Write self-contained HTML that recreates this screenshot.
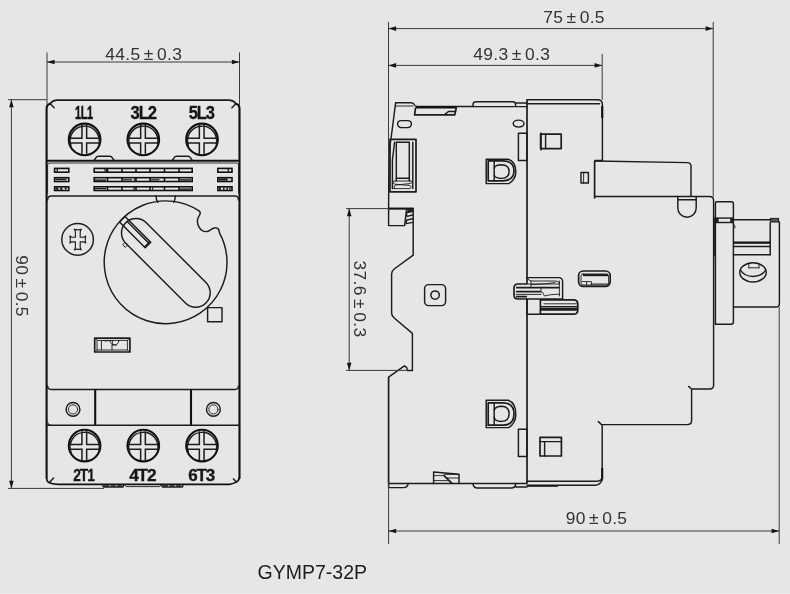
<!DOCTYPE html>
<html lang="en"><head><meta charset="utf-8"><title>GYMP7-32P dimensions</title>
<style>
html,body{margin:0;padding:0;background:#e4e6e7;}
body{width:790px;height:594px;overflow:hidden;}
svg{display:block;will-change:transform}
.k{fill:none;stroke:#1c1c1c;stroke-width:1.45;stroke-linecap:round;stroke-linejoin:round}
.n{fill:none;stroke:#1c1c1c;stroke-width:0.9;stroke-linecap:round;stroke-linejoin:round}
.s{fill:none;stroke:#1c1c1c;stroke-width:1.7;stroke-linejoin:round}
.c{fill:none;stroke:#1c1c1c;stroke-width:1.5;stroke-linejoin:miter}
.sc{fill:none;stroke:#111;stroke-width:2.1}
.t{fill:none;stroke:#111;stroke-width:2.1;stroke-linejoin:round}
.t2{fill:none;stroke:#111;stroke-width:1.6;stroke-linejoin:round}
.v{fill:#e4e6e7;stroke:#111;stroke-width:1.6}
.v2{stroke:#111;stroke-width:1.6}
.acc rect,.acc path{fill:#1c1c1c}
.f{fill:#1c1c1c}
.d{stroke:#3a3a3a;stroke-width:1;fill:none}
.ar{fill:#161616}
text{font-family:"Liberation Sans",sans-serif;fill:#2b2b2b}
.dm{font-size:17.4px;fill:#333;letter-spacing:0.35px;word-spacing:-1.9px}
.lb,.lb2{font-size:17.7px;font-weight:bold;fill:#161616;stroke:#161616;stroke-width:0.3;letter-spacing:-1.2px}
.lb2{font-size:16.7px}
.ttl{font-size:19.5px;fill:#1d1d1d}
</style></head>
<body>
<svg width="790" height="594" viewBox="0 0 790 594">
<g id="front">
<path d="M46.6,478.4 L46.6,108.7 Q46.6,104.8 50.2,103.8" class="t"/>
<path d="M239.5,478.4 L239.5,108.7 Q239.5,104.8 235.9,103.8" class="t"/>
<path d="M50.2,103.8 Q52.0,100.8 56.6,100.2 L229.5,100.2 Q234.1,100.8 235.9,103.8" class="s"/>
<line x1="50.4" y1="104.0" x2="54.2" y2="107.8" class="k"/>
<line x1="235.7" y1="104.0" x2="231.9" y2="107.8" class="k"/>
<path d="M46.6,477.4 Q46.6,481.9 50.0,483.0 Q53.6,484.4 58.6,484.4 L229.5,484.4 Q232.5,484.0 235.5,482.4 Q239.1,481.0 239.5,477.4" class="t2"/>
<line x1="49.800000000000004" y1="482.0" x2="53.6" y2="477.9" class="k"/>
<line x1="236.3" y1="482.0" x2="233.5" y2="478.9" class="k"/>
<path d="M102.4,484.4 L103.4,487.0 L123,487.0 L124,484.4" class="k"/>
<path d="M124,484.4 L126,486.59999999999997 L159.6,486.59999999999997 L161.4,484.4" class="n"/>
<path d="M161.4,484.4 L162.4,487.0 L182.4,487.0 L183.4,484.4" class="k"/>
<path d="M104,486.0 L122.6,486.0 M163,486.0 L182,486.0" stroke="#1c1c1c" stroke-width="1.6" stroke-dasharray="5 1.6" fill="none"/>
<line x1="46.6" y1="160.7" x2="239.5" y2="160.7" class="t"/>
<path d="M94.4,160 L96.0,157.6 Q96.60000000000001,156.3 98.4,156.3 L109.80000000000001,156.3 Q111.60000000000001,156.3 112.2,157.6 L113.80000000000001,160" class="k"/>
<path d="M172.6,160 L174.2,157.6 Q174.79999999999998,156.3 176.6,156.3 L188.0,156.3 Q189.79999999999998,156.3 190.4,157.6 L192.0,160" class="k"/>
<path d="M47.6,193 L47.6,165 Q47.6,163 50.0,163 L236.1,163 Q238.5,163 238.5,165 L238.5,193" class="n"/>
<rect x="54.6" y="168.4" width="14.2" height="3.799999999999983" rx="0" class="v"/>
<rect x="217.8" y="168.4" width="14.2" height="3.799999999999983" rx="0" class="v"/>
<rect x="94.2" y="168.4" width="98" height="3.799999999999983" rx="0" class="v"/>
<line x1="107.5" y1="168.5" x2="107.5" y2="172.1" class="v2"/>
<line x1="122" y1="168.5" x2="122" y2="172.1" class="v2"/>
<line x1="136" y1="168.5" x2="136" y2="172.1" class="v2"/>
<line x1="150" y1="168.5" x2="150" y2="172.1" class="v2"/>
<line x1="164.5" y1="168.5" x2="164.5" y2="172.1" class="v2"/>
<line x1="179" y1="168.5" x2="179" y2="172.1" class="v2"/>
<rect x="54.6" y="177.7" width="14.2" height="3.8000000000000114" rx="0" class="v"/>
<rect x="217.8" y="177.7" width="14.2" height="3.8000000000000114" rx="0" class="v"/>
<rect x="94.2" y="177.7" width="98" height="3.8000000000000114" rx="0" class="v"/>
<line x1="107.5" y1="177.79999999999998" x2="107.5" y2="181.4" class="v2"/>
<line x1="122" y1="177.79999999999998" x2="122" y2="181.4" class="v2"/>
<line x1="136" y1="177.79999999999998" x2="136" y2="181.4" class="v2"/>
<line x1="150" y1="177.79999999999998" x2="150" y2="181.4" class="v2"/>
<line x1="164.5" y1="177.79999999999998" x2="164.5" y2="181.4" class="v2"/>
<line x1="179" y1="177.79999999999998" x2="179" y2="181.4" class="v2"/>
<rect x="54.6" y="186.8" width="14.2" height="3.6999999999999886" rx="0" class="v"/>
<rect x="217.8" y="186.8" width="14.2" height="3.6999999999999886" rx="0" class="v"/>
<rect x="94.2" y="186.8" width="98" height="3.6999999999999886" rx="0" class="v"/>
<line x1="107.5" y1="186.9" x2="107.5" y2="190.4" class="v2"/>
<line x1="122" y1="186.9" x2="122" y2="190.4" class="v2"/>
<line x1="136" y1="186.9" x2="136" y2="190.4" class="v2"/>
<line x1="150" y1="186.9" x2="150" y2="190.4" class="v2"/>
<line x1="164.5" y1="186.9" x2="164.5" y2="190.4" class="v2"/>
<line x1="179" y1="186.9" x2="179" y2="190.4" class="v2"/>
<g class="acc">
<rect x="55.5" y="178.6" width="11" height="1.6"/><rect x="55.5" y="187.4" width="3" height="2.4"/><rect x="60" y="187.4" width="2.4" height="2.4"/><path d="M64,187.4 L68,187.4 L65.5,189.8Z"/>
<rect x="56.6" y="169" width="1.4" height="2.6"/>
<rect x="218.6" y="178.4" width="9" height="2.2"/><rect x="219" y="187.4" width="2" height="2.4"/><rect x="223" y="187.4" width="1.6" height="2.4"/><rect x="226.4" y="187.4" width="1.6" height="2.4"/><rect x="229.2" y="187.4" width="1.4" height="2.4"/>
<rect x="227.6" y="169" width="1.4" height="2.6"/>
<rect x="104.4" y="169" width="1.2" height="2.6"/><rect x="106" y="169" width="1" height="2.6"/>
<rect x="95" y="179.4" width="11" height="1.4"/><rect x="123" y="179.2" width="9" height="1.2"/><rect x="134" y="178.6" width="1.6" height="2"/><rect x="150.5" y="179.2" width="9" height="1.2"/><rect x="180" y="179.2" width="11" height="1.4"/>
<rect x="95" y="188" width="11" height="1.2"/><rect x="180" y="188.4" width="11" height="1.4"/><rect x="133.4" y="187.4" width="1.4" height="2.4"/><rect x="152" y="187.4" width="1.2" height="2.4"/>
</g>
<path d="M47.6,200 Q47.6,196 51.2,196 L234.9,196 Q238.5,196 238.5,200" class="k"/>
<path d="M47.6,386 Q47.6,389.4 51.0,389.4 L235.1,389.4 Q238.5,389.4 238.5,386" class="k"/>
<line x1="95.2" y1="389.4" x2="95.2" y2="425" class="t"/>
<line x1="191" y1="389.4" x2="191" y2="425" class="t"/>
<path d="M46.6,425.2 L239.5,425.2" class="k"/>
<path d="M47.4,422 Q47.6,425 50.6,425.2" class="n"/>
<circle cx="73" cy="409.4" r="6.9" class="k"/>
<circle cx="73" cy="409.4" r="4.6" class="n"/>
<circle cx="213.4" cy="409.4" r="6.9" class="k"/>
<circle cx="213.4" cy="409.4" r="4.6" class="n"/>
<circle cx="84.6" cy="139.4" r="15.8" class="sc"/>
<path d="M71.0,145.9 A14.6,14.6 0 1 1 98.89999999999999,143.9" class="k"/>
<path d="M81.95,125.04 L81.95,138.25 L70.05,138.25" class="c"/>
<path d="M81.95,153.76 L81.95,142.95 L70.44,142.95" class="c"/>
<path d="M86.65,124.94 L86.65,138.25 L99.15,138.25" class="c"/>
<path d="M86.65,153.86 L86.65,142.95 L98.76,142.95" class="c"/>
<circle cx="84.6" cy="445.6" r="15.8" class="sc"/>
<path d="M71.0,452.1 A14.6,14.6 0 1 1 98.89999999999999,450.1" class="k"/>
<path d="M81.95,431.24 L81.95,444.45 L70.05,444.45" class="c"/>
<path d="M81.95,459.96 L81.95,449.15 L70.44,449.15" class="c"/>
<path d="M86.65,431.14 L86.65,444.45 L99.15,444.45" class="c"/>
<path d="M86.65,460.06 L86.65,449.15 L98.76,449.15" class="c"/>
<circle cx="143.3" cy="139.4" r="15.8" class="sc"/>
<path d="M129.70000000000002,145.9 A14.6,14.6 0 1 1 157.60000000000002,143.9" class="k"/>
<path d="M140.65,125.04 L140.65,138.25 L128.75,138.25" class="c"/>
<path d="M140.65,153.76 L140.65,142.95 L129.14,142.95" class="c"/>
<path d="M145.35,124.94 L145.35,138.25 L157.85,138.25" class="c"/>
<path d="M145.35,153.86 L145.35,142.95 L157.46,142.95" class="c"/>
<circle cx="143.3" cy="445.6" r="15.8" class="sc"/>
<path d="M129.70000000000002,452.1 A14.6,14.6 0 1 1 157.60000000000002,450.1" class="k"/>
<path d="M140.65,431.24 L140.65,444.45 L128.75,444.45" class="c"/>
<path d="M140.65,459.96 L140.65,449.15 L129.14,449.15" class="c"/>
<path d="M145.35,431.14 L145.35,444.45 L157.85,444.45" class="c"/>
<path d="M145.35,460.06 L145.35,449.15 L157.46,449.15" class="c"/>
<circle cx="202" cy="139.4" r="15.8" class="sc"/>
<path d="M188.4,145.9 A14.6,14.6 0 1 1 216.3,143.9" class="k"/>
<path d="M199.35,125.04 L199.35,138.25 L187.45,138.25" class="c"/>
<path d="M199.35,153.76 L199.35,142.95 L187.84,142.95" class="c"/>
<path d="M204.05,124.94 L204.05,138.25 L216.55,138.25" class="c"/>
<path d="M204.05,153.86 L204.05,142.95 L216.16,142.95" class="c"/>
<circle cx="202" cy="445.6" r="15.8" class="sc"/>
<path d="M188.4,452.1 A14.6,14.6 0 1 1 216.3,450.1" class="k"/>
<path d="M199.35,431.24 L199.35,444.45 L187.45,444.45" class="c"/>
<path d="M199.35,459.96 L199.35,449.15 L187.84,449.15" class="c"/>
<path d="M204.05,431.14 L204.05,444.45 L216.55,444.45" class="c"/>
<path d="M204.05,460.06 L204.05,449.15 L216.16,449.15" class="c"/>
<text class="lb" x="75.0" y="118.5" textLength="17.7" lengthAdjust="spacingAndGlyphs" style="letter-spacing:-0.6px;stroke-width:0.5">1L1</text>
<text class="lb" x="130.6" y="118.5" textLength="25.3" lengthAdjust="spacingAndGlyphs">3L2</text>
<text class="lb" x="188.8" y="118.5" textLength="25.1" lengthAdjust="spacingAndGlyphs">5L3</text>
<text class="lb2" x="73.2" y="480.8" textLength="20.7" lengthAdjust="spacingAndGlyphs">2T1</text>
<text class="lb2" x="129.2" y="480.8" textLength="26.1" lengthAdjust="spacingAndGlyphs">4T2</text>
<text class="lb2" x="188.2" y="480.8" textLength="25.7" lengthAdjust="spacingAndGlyphs">6T3</text>
<circle cx="77.6" cy="239.4" r="15.8" class="k"/>
<path d="M-3.6,-10.2 Q-2.4,-9 -2.4,-7.4 L-2.4,-2.3 L-5.6,-2.3 Q-6.8,-2.3 -7.9,-3.5 Q-7,0 -7.9,3.5 Q-6.8,2.3 -5.6,2.3 L-2.4,2.3 L-2.4,7.4 Q-2.4,9 -3.6,10.2 Q0,9.2 3.6,10.2 Q2.4,9 2.4,7.4 L2.4,2.3 L5.6,2.3 Q6.8,2.3 7.9,3.5 Q7,0 7.9,-3.5 Q6.8,-2.3 5.6,-2.3 L2.4,-2.3 L2.4,-7.4 Q2.4,-9 3.6,-10.2 Q0,-9.2 -3.6,-10.2Z" class="n" style="stroke-width:1.15" transform="translate(77.8,239.5)"/>
<path d="M156,196 Q156.3,200.3 157.8,202.3" class="k"/>
<path d="M175.4,196 Q175.2,200.3 173.6,202.3" class="k"/>
<path d="M219.45,232.80 A61.4,61.4 0 1 1 199.10,210.84 C202.5,213.5 198.5,215 197.6,219.5 C196.6,225 200.5,231.6 206,231.6 C210,231.6 212,227.4 215.5,227.8 C218,228 219.3,230 219.45,232.80Z" class="k"/>
<g transform="translate(165.85,262.85) rotate(45)">
<rect x="-56.7" y="-14.5" width="113.4" height="29" rx="14.5" class="k"/>
<rect x="-61.6" y="-3.9" width="36.3" height="7.8" class="k"/>
<line x1="-56.5" y1="-1.9" x2="-25.3" y2="-1.9" class="k"/>
<line x1="-56.5" y1="-3.9" x2="-56.5" y2="3.9" class="n"/><line x1="-26.3" y1="-3.9" x2="-26.3" y2="3.9" class="k"/>
<rect x="-43" y="14.5" width="3.4" height="3.2" class="n"/>
</g>
<rect x="207.6" y="307.6" width="14.4" height="14.2" rx="0" class="k"/>
<rect x="94.7" y="338.2" width="35.2" height="13.8" rx="0" class="s"/>
<path d="M97.4,340.4 L101.4,340.4 L101.4,350 L97.4,350Z M101.4,340.4 L127.4,340.4 L127.4,350 L101.4,350 M127.4,340.4 L129,338.6 M127.4,350 L129,351.6 M95.6,339 L97.4,340.4 M95.6,351.4 L97.4,350" class="n"/>
<path d="M103,340.6 Q106,341.5 110,340.6 M112,345.4 L112,350 M110,340.4 Q110.4,344.8 114.4,344.8 Q118.6,344.8 119,340.4 M112.4,340.4 L112.4,344.4 M112,345 L116.5,345" class="n"/>
</g>
<g id="side">
<path d="M395.6,102.8 L411.2,102.8 Q413.6,102.8 414.6,105 Q415.4,106.4 417,106.4 L473,106.4" class="k"/>
<path d="M395.6,102.8 L392.4,128 L388.9,154 L388.6,208.6" class="k"/>
<path d="M395.4,106 L413,106" class="n"/>
<path d="M416,107.4 L456.6,107.4" class="t"/>
<path d="M415.6,107.4 L414.6,114.8 L454.8,114.8 L456.4,107.4" class="s"/>
<path d="M444.6,114.6 L448.4,111.5 L455.2,111.5" class="k"/>
<path d="M473,106.6 L473,104.6 Q473,101.8 476,101.8 L512.6,101.8 Q515.6,101.8 515.6,104.6 L515.6,106.6 M473,106.6 L527,106.6 M515.6,103 L527,103" class="k"/>
<rect x="397.6" y="120.6" width="13.8" height="7" rx="3.5" class="k"/>
<ellipse cx="518.6" cy="123.6" rx="5.4" ry="3.5" class="k"/>
<rect x="390" y="139.4" width="26" height="52.4" rx="0" class="s"/>
<rect x="396.3" y="142.2" width="13" height="36" rx="0" class="k"/>
<path d="M412.8,142.2 L412.8,188.6 M392.4,188.6 L392.4,160 L394.6,142.2 M396.3,178.2 L396.3,181 M409.3,178.2 L409.3,181" class="k"/>
<path d="M394,181 L411,181 M394,181 Q391.5,183.2 395,184.2 L409,185.4 Q413,186.4 410,188.6 L392.4,188.6 M411,181 Q413.4,182.8 410,183.6 L396,185 Q392.6,186 394.6,188.4" class="n"/>
<path d="M388.6,208.6 L413.6,208.6" class="t"/>
<path d="M388.6,208.6 L388.6,225.6 L404.6,225.6 L406.6,209" class="k"/>
<path d="M413.2,208.6 L413.2,255.2 L394.2,269 Q391.6,271 391.6,274 L391.6,313 Q391.6,316 394.2,318 L412.4,333.4 L412.4,370.4" class="k"/>
<path d="M407,212.6 L412.6,211.4 M407,216.4 L412.6,215 M407,220 L412.6,218.8 M406.4,223.6 L412.6,222.4 M407,212.6 Q405.8,214.4 407,216.4 M407,220 Q405.6,221.8 406.4,223.6" class="k"/>
<rect x="407.4" y="209.2" width="5.4" height="3" rx="0" class="f"/>
<path d="M412.4,370.4 L407.4,370.4 L406.6,367.4 L404.4,365.8 L388.6,377.2" class="k"/>
<line x1="388.6" y1="377.2" x2="388.6" y2="483.4" class="s"/>
<path d="M388.6,483.4 L527,483.4" class="k"/>
<path d="M388.6,483.4 L388.6,487.6 L403.6,487.6 Q407.4,487.6 408.2,483.6" class="k"/>
<path d="M473,483.6 Q473.4,488 477.4,488 L511.4,488 Q515.4,488 515.8,483.6 M515.8,487 L527,487" class="k"/>
<path d="M433.6,483.4 L433.6,472 L459,474.2 L459,483.4" class="k"/>
<path d="M433.6,475.6 L444,475.6 L452,483.4 M444,474.4 L459,474.4 M447,478 L459,478 M433.6,480.6 L449,480.6" class="n"/>
<path d="M444,475.6 L452,483.4" class="s"/>
<rect x="424.6" y="284.6" width="21" height="21" rx="4.2" class="k"/>
<circle cx="435.1" cy="295.1" r="4.2" class="k"/>
<path d="M486.2,159.3 L508.2,159.3 Q515.8,161.73000000000002 515.8,172.04999999999998 Q515.8,179.712 508.7,183.6 L486.2,183.6Z" class="k"/>
<path d="M488.2,160.8 L503.2,160.8 Q514.0,161.10000000000002 514.0,170.8 Q514.0,180.5 503.2,180.8 L488.2,180.8Z" class="s"/>
<path d="M494.2,160.8 L494.2,180.8" class="k"/>
<path d="M494.2,168.1 Q495.2,164.79999999999998 501.59999999999997,164.79999999999998 Q509.09999999999997,164.99999999999997 509.09999999999997,171.6 Q509.09999999999997,178.20000000000002 501.59999999999997,178.4 Q495.2,178.4 494.2,175.1" class="k"/>
<path d="M486.2,400.2 L508.2,400.2 Q515.8,402.94 515.8,414.5 Q515.8,423.216 508.7,427.6 L486.2,427.6Z" class="k"/>
<path d="M488.2,402.8 L503.2,402.8 Q514.0,403.1 514.0,414.0 Q514.0,424.9 503.2,425.2 L488.2,425.2Z" class="s"/>
<path d="M494.2,402.8 L494.2,425.2" class="k"/>
<path d="M494.2,410.3 Q495.2,406.2 501.59999999999997,406.2 Q509.09999999999997,406.4 509.09999999999997,413.8 Q509.09999999999997,421.20000000000005 501.59999999999997,421.40000000000003 Q495.2,421.40000000000003 494.2,417.3" class="k"/>
<rect x="518.4" y="133.2" width="8.6" height="27.2" rx="0" class="k"/>
<rect x="518.4" y="429.2" width="8.6" height="27.2" rx="0" class="k"/>
<path d="M527,106 L527,284 M527,299 L527,483" class="s"/>
<path d="M527,99.8 L597.6,99.8 Q602.4,99.8 602.4,104.6 L602.4,160.6" class="k"/>
<path d="M527,99.8 L527,106" class="s"/>
<path d="M527,103.8 L599.6,103.8" class="k"/>
<path d="M602.2,106 L602.2,118" class="t"/>
<path d="M594.6,161 L594.6,198.6" class="s"/>
<path d="M594.6,161 L687.4,162.6 Q691,162.8 691,166.2 L691,196" class="k"/>
<path d="M594.6,160.6 L602.4,160.6" class="s"/>
<path d="M594.6,196.4 L709.4,196.4 Q713.6,196.4 713.6,200.6 L713.6,385 Q713.6,389 709.6,389 L691.6,389 M688.6,386.4 L691.6,389 L691.6,420.6 Q691.6,424.6 687.6,424.6 L601.8,424.6 M598.4,421.6 L602.2,425.2 L602.2,480" class="k"/>
<path d="M602.2,468 L602.2,479" class="t"/>
<path d="M527,481.2 L597,481.2 Q601.6,481 602.2,477 M527,485.2 L595,485.2 Q600,485 602,480" class="k"/>
<path d="M527,486 L558,486" class="s"/>
<path d="M677.8,196.4 L677.8,208 A9.2,9.2 0 0 0 696.2,208 L696.2,196.4 M677.8,199.8 L696.2,199.8" class="k"/>
<rect x="540.6" y="134.2" width="20.6" height="14.4" rx="0" class="s"/>
<path d="M545.6,134.2 L545.6,148.6 M541,133 L541,150" class="k"/>
<rect x="581" y="172.4" width="7.4" height="10.6" rx="0" class="k"/>
<line x1="583.6" y1="172.4" x2="583.6" y2="183" class="n"/>
<rect x="540" y="437.4" width="21.4" height="18.6" rx="0" class="s"/>
<path d="M540,441.6 L561.4,441.6 M544.6,441.6 L544.6,456" class="k"/>
<rect x="578.6" y="271" width="31.6" height="15.4" rx="4.6" class="s"/>
<rect x="581" y="274" width="27.6" height="11" rx="2" class="n"/>
<rect x="583" y="274" width="25" height="2.2" class="f"/>
<path d="M582,281.6 L591.4,281.6 L591.4,285 M586.6,281.6 L586.6,285 M591.4,284 L608,284" class="n"/>
<path d="M527,277.6 L558.6,277.6 Q562.6,277.6 562.6,281.6 L562.6,299" class="k"/>
<path d="M527,284 L518,284 Q514,284 514,288 L514,295 Q514,299 518,299 L562.6,299" class="s"/>
<path d="M527,277.6 Q529,281 531,281 L556,281 Q559.4,281 559.4,284 M531,281 L531,287.6" class="n"/>
<path d="M516,287.6 L559.4,287.6 M516,291.6 L541,291.6 M516,296.6 L527,296.6" class="s"/>
<path d="M527,284 L559.4,284 M541,287.6 L541,291.6 Q543.4,292 544.4,296 Q550,294.2 559.4,294.2 M559.4,281 L559.4,296 M516,294.4 L541,294.4 M531,284.6 Q545,284.4 555,282.6" class="n"/>
<path d="M527,299 L527,314.2 L540.4,314.2" class="k"/>
<path d="M540.4,299.8 L573.6,299.8 Q577.8,299.8 577.8,304 L577.8,310 Q577.8,314.2 573.6,314.2 L540.4,314.2Z" class="s"/>
<path d="M541,306.6 L577,306.6 M541,308.4 L577,308.4 M541,310 L577,310" class="k"/>
<path d="M544,303.8 L577,303.8" class="n"/>
</g>
<g id="knob">
<path d="M714.5,218 L714.5,256" class="n"/>
<path d="M715.4,218 L715.4,203.4 Q715.4,201.8 717,201.8 L731.6,201.8 Q733.4,201.8 733.4,203.6 L733.4,322 Q733.4,324.2 731.2,324.2 L715.4,324.2 L715.4,223" class="k"/>
<rect x="714.4" y="217.4" width="19" height="5.8" class="f"/>
<rect x="718.6" y="218.8" width="11.6" height="3" fill="#e4e6e7"/>
<path d="M733.4,224 L735,226 L735,228" class="n"/>
<line x1="733.4" y1="219.8" x2="770" y2="219.8" class="k"/>
<rect x="770.4" y="218.4" width="8.2" height="3.6" fill="#555" stroke="#1c1c1c" stroke-width="1"/>
<path d="M770.2,222.8 L770.2,254.8 M779.4,222 L779.4,303.4 Q779.4,307 775.8,307 L733.4,307" class="k"/>
<path d="M733.4,242.6 L770.2,242.6" class="t"/>
<path d="M733.4,246.4 L770.2,246.4 M733.4,254.8 L770.2,254.8" class="k"/>
<ellipse cx="753" cy="272.4" rx="13.2" ry="9.6" class="k"/>
<path d="M740.4,270 Q744,276.4 753,276.4 Q762,276.4 765.6,270" class="k"/>
<path d="M748.8,268 L748.8,263.6 M759,268 L759,263.6 M748.8,267.8 L759,267.8" class="n"/>
</g>
<g id="dims">
<line x1="47" y1="52.4" x2="47" y2="105" class="d"/>
<line x1="239.5" y1="52.4" x2="239.5" y2="105" class="d"/>
<line x1="47" y1="62" x2="239.5" y2="62" class="d"/>
<polygon points="47,62 54.6,59.7 54.6,64.3" class="ar"/>
<polygon points="239.5,62 231.9,64.3 231.9,59.7" class="ar"/>
<line x1="8" y1="99.7" x2="47" y2="99.7" class="d"/>
<line x1="8" y1="488.4" x2="104" y2="488.4" class="d"/>
<line x1="11.4" y1="99.7" x2="11.4" y2="488.4" class="d"/>
<polygon points="11.4,99.7 13.7,107.3 9.100000000000001,107.3" class="ar"/>
<polygon points="11.4,488.4 9.100000000000001,480.79999999999995 13.7,480.79999999999995" class="ar"/>
<line x1="388.5" y1="22" x2="388.5" y2="160" class="d"/>
<line x1="713.2" y1="22" x2="713.2" y2="197" class="d"/>
<line x1="388.5" y1="28.6" x2="713.2" y2="28.6" class="d"/>
<polygon points="388.5,28.6 396.1,26.3 396.1,30.900000000000002" class="ar"/>
<polygon points="713.2,28.6 705.6,30.900000000000002 705.6,26.3" class="ar"/>
<line x1="602.2" y1="54" x2="602.2" y2="100" class="d"/>
<line x1="388.5" y1="65.4" x2="602.2" y2="65.4" class="d"/>
<polygon points="388.5,65.4 396.1,63.10000000000001 396.1,67.7" class="ar"/>
<polygon points="602.2,65.4 594.6,67.7 594.6,63.10000000000001" class="ar"/>
<line x1="346" y1="208.6" x2="389" y2="208.6" class="d"/>
<line x1="346" y1="370.4" x2="408" y2="370.4" class="d"/>
<line x1="349.2" y1="208.6" x2="349.2" y2="370.4" class="d"/>
<polygon points="349.2,208.6 351.5,216.2 346.9,216.2" class="ar"/>
<polygon points="349.2,370.4 346.9,362.79999999999995 351.5,362.79999999999995" class="ar"/>
<line x1="388.6" y1="483" x2="388.6" y2="544" class="d"/>
<line x1="779.2" y1="307" x2="779.2" y2="544" class="d"/>
<line x1="388.6" y1="531" x2="779.2" y2="531" class="d"/>
<polygon points="388.6,531 396.20000000000005,528.7 396.20000000000005,533.3" class="ar"/>
<polygon points="779.2,531 771.6,533.3 771.6,528.7" class="ar"/>
</g>
<text class="dm" x="143.8" y="59.6" text-anchor="middle">44.5 ± 0.3</text>
<text class="dm" x="574" y="22.6" text-anchor="middle">75 ± 0.5</text>
<text class="dm" x="511.8" y="60.2" text-anchor="middle">49.3 ± 0.3</text>
<text class="dm" x="596.5" y="524" text-anchor="middle">90 ± 0.5</text>
<text class="dm" transform="translate(16,286) rotate(90)" text-anchor="middle">90 ± 0.5</text>
<text class="dm" transform="translate(354.4,299) rotate(90)" text-anchor="middle">37.6 ± 0.3</text>
<rect x="0" y="593" width="790" height="1" fill="#ecedee"/>
<text class="ttl" x="257.6" y="579.3">GYMP7-32P</text>
</svg>
</body></html>
